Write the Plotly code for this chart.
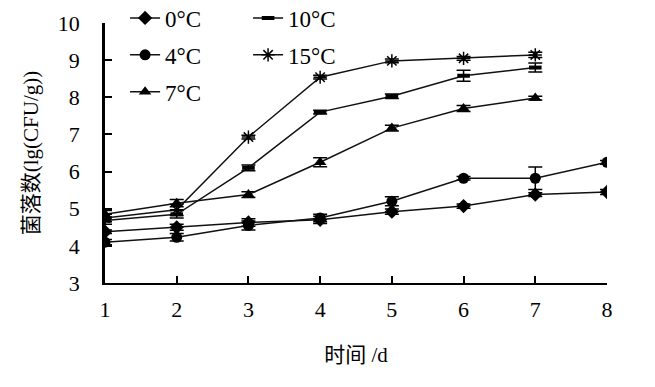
import plotly.graph_objects as go

days = [1, 2, 3, 4, 5, 6, 7, 8]
days7 = [1, 2, 3, 4, 5, 6, 7]

t0 = [4.38, 4.50, 4.63, 4.70, 4.92, 5.07, 5.38, 5.45]
t0_err = [0.05, 0.08, 0.10, 0.10, 0.07, 0.06, 0.05, 0.07]
t4 = [4.10, 4.23, 4.55, 4.75, 5.20, 5.82, 5.82, 6.25]
t4_err = [0.07, 0.10, 0.12, 0.10, 0.12, 0.05, 0.30, 0.05]
t7 = [4.85, 5.15, 5.38, 6.25, 7.17, 7.70, 7.98]
t7_err = [0.10, 0.10, 0.08, 0.12, 0.08, 0.08, 0.05]
t10 = [4.68, 4.85, 6.10, 7.60, 8.03, 8.58, 8.80]
t10_err = [0.10, 0.10, 0.08, 0.05, 0.06, 0.15, 0.12]
t15 = [4.75, 4.97, 6.93, 8.54, 8.98, 9.05, 9.14]
t15_err = [0.10, 0.15, 0.05, 0.05, 0.05, 0.05, 0.07]

names = ["0°C", "4°C", "7°C", "10°C", "15°C"]
symbols = ["diamond", "circle", "triangle-up", "line-ew", "asterisk-open"]
series = [(days, t0, t0_err), (days, t4, t4_err), (days7, t7, t7_err),
          (days7, t10, t10_err), (days7, t15, t15_err)]
legends = ["legend", "legend", "legend", "legend2", "legend2"]

fig = go.Figure()
for i, ((x, y, e), nm, sym, lg) in enumerate(zip(series, names, symbols, legends)):
    mk = dict(symbol=sym, color="black", size=11)
    if sym == "line-ew":
        mk.update(size=9, line=dict(color="black", width=4))
    elif sym == "asterisk-open":
        mk.update(size=11, line=dict(color="black", width=1.5))
    fig.add_trace(go.Scatter(
        x=x, y=y, name=nm, mode="lines+markers",
        line=dict(color="#111", width=1.5),
        marker=mk,
        error_y=dict(type="data", array=e, visible=True, color="black",
                     thickness=1.5, width=7),
        legend=lg, legendgroup=nm,
    ))

serif = "Liberation Serif, Times New Roman, Noto Sans CJK SC"
legfont = dict(family=serif, size=23, color="black")

fig.update_layout(
    width=655, height=387,
    margin=dict(l=97, r=56, t=15, b=112, autoexpand=False),
    paper_bgcolor="white", plot_bgcolor="white",
    font=dict(family=serif, color="black", size=21),
    legend=dict(x=0.04, y=1.102, xanchor="left", yanchor="top",
                bgcolor="rgba(0,0,0,0)", font=legfont, tracegroupgap=4,
                orientation="v"),
    legend2=dict(x=0.285, y=1.102, xanchor="left", yanchor="top",
                 bgcolor="rgba(0,0,0,0)", font=legfont, tracegroupgap=4,
                 orientation="v"),
    xaxis=dict(range=[1, 8], tickvals=days, showgrid=False, zeroline=False,
               showline=True, linecolor="black", linewidth=2,
               ticks="inside", ticklen=7, tickwidth=1.5, tickcolor="black",
               ticklabelstandoff=6,
               tickfont=dict(family=serif, size=22),
               title=dict(text="时间 /d", standoff=26,
                          font=dict(family=serif, size=21))),
    yaxis=dict(range=[3, 10], dtick=1, showgrid=False, zeroline=False,
               showline=True, linecolor="black", linewidth=2.5,
               ticks="inside", ticklen=7, tickwidth=1.5, tickcolor="black",
               ticklabelstandoff=18,
               tickfont=dict(family=serif, size=22),
               title=dict(text="菌落数(lg(CFU/g))", standoff=14,
                          font=dict(family=serif, size=21))),
)

fig.write_html("out.html")
